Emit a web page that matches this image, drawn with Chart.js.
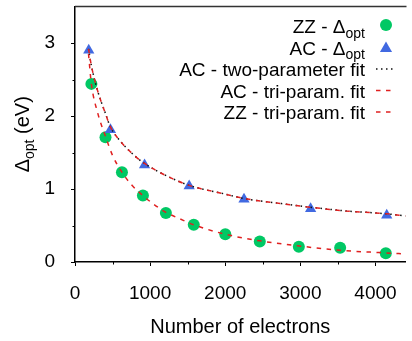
<!DOCTYPE html>
<html>
<head>
<meta charset="utf-8">
<script src="https://cdn.jsdelivr.net/npm/chart.js"></script>
<style>
  body { margin: 0; background: #fff; }
  canvas { display: block; }
</style>
</head>
<body>
<canvas id="gapChart" width="412" height="341"></canvas>
<script>
// markers
const zzElectrons = [218, 406, 625, 904, 1210, 1581, 2001, 2460, 2980, 3530, 4138];
const zzGap = [2.44, 1.71, 1.23, 0.91, 0.67, 0.51, 0.38, 0.28, 0.21, 0.195, 0.12];

const acElectrons = [183, 472, 926, 1520, 2250, 3137, 4150];
const acGap = [2.90, 1.81, 1.33, 1.04, 0.86, 0.73, 0.64];

// fit curves
const acFitElectrons = [180, 220, 300, 400, 472, 600, 800, 926, 1200, 1520, 2000, 2250, 2750, 3137, 3600, 4150, 4400];
const acTwoParamFit = [2.92, 2.68, 2.35, 2.05, 1.85, 1.66, 1.45, 1.35, 1.19, 1.05, 0.93, 0.87, 0.80, 0.75, 0.70, 0.66, 0.63];
const acTriParamFit = [2.92, 2.68, 2.35, 2.05, 1.85, 1.66, 1.45, 1.35, 1.19, 1.05, 0.93, 0.87, 0.80, 0.75, 0.70, 0.66, 0.63];

const zzFitElectrons = [180, 218, 300, 406, 500, 625, 750, 904, 1050, 1210, 1400, 1581, 2000, 2460, 2980, 3530, 4138, 4400];
const zzTriParamFit = [2.85, 2.44, 2.05, 1.72, 1.46, 1.23, 1.06, 0.91, 0.79, 0.68, 0.59, 0.51, 0.38, 0.29, 0.22, 0.16, 0.125, 0.11];

const xTicks = [0, 1000, 2000, 3000, 4000];
const yTicks = [0, 1, 2, 3];
const xTicksMinor = [500, 1500, 2500, 3500];
const yTicksMinor = [0.5, 1.5, 2.5];

const FONT = '"Liberation Sans", Arial, sans-serif';

function toPoints(xs, ys) {
    return xs.map((x, i) => ({ x: x, y: ys[i] }));
}

// label text: part after "_" is drawn as a subscript
function drawLabel(ctx, text, x, y, align, size) {
    const parts = text.split('_');
    const main = parts[0];
    const sub = parts[1] || '';
    const tail = parts[2] || '';
    const subSize = Math.round(size * 0.72);
    ctx.font = size + 'px ' + FONT;
    const w1 = ctx.measureText(main).width;
    const w3 = ctx.measureText(tail).width;
    ctx.font = subSize + 'px ' + FONT;
    const w2 = ctx.measureText(sub).width;
    const total = w1 + w2 + w3;
    let sx = x;
    if (align === 'right') sx = x - total;
    if (align === 'center') sx = x - total / 2;
    ctx.textAlign = 'left';
    ctx.textBaseline = 'alphabetic';
    ctx.font = size + 'px ' + FONT;
    ctx.fillText(main, sx, y);
    ctx.font = subSize + 'px ' + FONT;
    ctx.fillText(sub, sx + w1, y + size * 0.25);
    ctx.font = size + 'px ' + FONT;
    ctx.fillText(tail, sx + w1 + w2, y);
}

const extrasPlugin = {
    id: 'extras',
    afterDraw(chart) {
        const ctx = chart.ctx;
        const area = chart.chartArea;
        const xs = chart.scales.x;
        const ys = chart.scales.y;
        ctx.save();

        // top frame line
        ctx.strokeStyle = '#333';
        ctx.lineWidth = 1.5;
        ctx.beginPath();
        ctx.moveTo(area.left, area.top);
        ctx.lineTo(area.right + 1, area.top);
        ctx.stroke();

        // minor ticks
        ctx.strokeStyle = '#000';
        ctx.lineWidth = 1;
        xTicksMinor.forEach(v => {
            const px = Math.round(xs.getPixelForValue(v)) + 0.5;
            ctx.beginPath();
            ctx.moveTo(px, area.bottom);
            ctx.lineTo(px, area.bottom + 2.5);
            ctx.stroke();
        });
        yTicksMinor.forEach(v => {
            const py = Math.round(ys.getPixelForValue(v)) + 0.5;
            ctx.beginPath();
            ctx.moveTo(area.left - 2.5, py);
            ctx.lineTo(area.left, py);
            ctx.stroke();
        });

        // y axis title with subscript
        ctx.fillStyle = '#000';
        ctx.save();
        ctx.translate(21.5, (area.top + area.bottom) / 2);
        ctx.rotate(-Math.PI / 2);
        drawLabel(ctx, 'Δ_opt_ (eV)', 0, 7, 'center', 20);
        ctx.restore();

        // legend: text right aligned, symbol on the right
        const rowY = [26, 47.5, 69, 90.5, 112];
        chart.data.datasets.forEach((ds, i) => {
            const cy = rowY[i];
            ctx.fillStyle = '#000';
            drawLabel(ctx, ds.label, 365, cy + 7, 'right', 19);
            if (ds.showLine) {
                ctx.save();
                ctx.strokeStyle = ds.borderColor;
                ctx.lineWidth = ds.borderWidth;
                ctx.setLineDash(ds.borderDash);
                ctx.beginPath();
                ctx.moveTo(376, cy);
                ctx.lineTo(ds.borderDash[0] < 2 ? 396 : 391, cy);
                ctx.stroke();
                ctx.restore();
            } else if (ds.pointStyle === 'circle') {
                ctx.fillStyle = ds.backgroundColor;
                ctx.beginPath();
                ctx.arc(386, cy - 1, 6, 0, Math.PI * 2);
                ctx.fill();
            } else {
                const r = 7;
                const c = cy + 1;
                ctx.fillStyle = ds.backgroundColor;
                ctx.beginPath();
                ctx.moveTo(386, c - r);
                ctx.lineTo(386 + r * Math.sin(Math.PI / 3), c + r / 2);
                ctx.lineTo(386 - r * Math.sin(Math.PI / 3), c + r / 2);
                ctx.closePath();
                ctx.fill();
            }
        });
        ctx.restore();
    }
};

const ctx = document.getElementById('gapChart').getContext('2d');
new Chart(ctx, {
    type: 'scatter',
    data: {
        datasets: [{
            label: 'ZZ - Δ_opt',
            data: toPoints(zzElectrons, zzGap),
            pointStyle: 'circle',
            pointRadius: 6,
            backgroundColor: '#00c864',
            borderWidth: 0,
            order: 5
        }, {
            label: 'AC - Δ_opt',
            data: toPoints(acElectrons, acGap),
            pointStyle: 'triangle',
            pointRadius: 6.5,
            backgroundColor: '#4169e1',
            borderWidth: 0,
            order: 4
        }, {
            label: 'AC - two-parameter fit',
            data: toPoints(acFitElectrons, acTwoParamFit),
            showLine: true,
            pointRadius: 0,
            borderColor: '#111',
            borderWidth: 1.5,
            borderDash: [1.5, 3.5],
            cubicInterpolationMode: 'monotone',
            order: 3
        }, {
            label: 'AC - tri-param. fit',
            data: toPoints(acFitElectrons, acTriParamFit),
            showLine: true,
            pointRadius: 0,
            borderColor: '#e02020',
            borderWidth: 1.5,
            borderDash: [4.5, 5.5],
            cubicInterpolationMode: 'monotone',
            order: 2
        }, {
            label: 'ZZ - tri-param. fit',
            data: toPoints(zzFitElectrons, zzTriParamFit),
            showLine: true,
            pointRadius: 0,
            borderColor: '#e02020',
            borderWidth: 1.5,
            borderDash: [4.5, 5.5],
            cubicInterpolationMode: 'monotone',
            order: 1
        }]
    },
    options: {
        responsive: false,
        animation: false,
        layout: { padding: { top: 5, right: 1, left: 0, bottom: 0 } },
        plugins: {
            legend: { display: false },
            tooltip: { enabled: false }
        },
        scales: {
            x: {
                type: 'linear',
                min: 0,
                max: 4400,
                afterBuildTicks: s => { s.ticks = xTicks.map(v => ({ value: v })); },
                afterFit: s => { s.height = 79; s.paddingLeft = 0; s.paddingRight = 0; },
                border: { color: '#000', width: 1.5 },
                grid: { drawOnChartArea: false, tickLength: 4, color: '#000' },
                ticks: {
                    padding: 16,
                    color: '#000',
                    maxRotation: 0,
                    autoSkip: false,
                    callback: v => String(v),
                    font: { family: FONT, size: 19 }
                },
                title: {
                    display: true,
                    text: 'Number of electrons',
                    color: '#000',
                    padding: { top: 0, bottom: 2 },
                    font: { family: FONT, size: 20 }
                }
            },
            y: {
                min: 0,
                max: 3.5,
                afterBuildTicks: s => { s.ticks = yTicks.map(v => ({ value: v })); },
                afterFit: s => { s.width = 75; s.paddingTop = 0; s.paddingBottom = 0; },
                border: { color: '#000', width: 1.5 },
                grid: { drawOnChartArea: false, tickLength: 4, color: '#000' },
                ticks: {
                    padding: 16,
                    color: '#000',
                    autoSkip: false,
                    callback: v => String(v),
                    font: { family: FONT, size: 19 }
                }
            }
        }
    },
    plugins: [extrasPlugin]
});
</script>
</body>
</html>
